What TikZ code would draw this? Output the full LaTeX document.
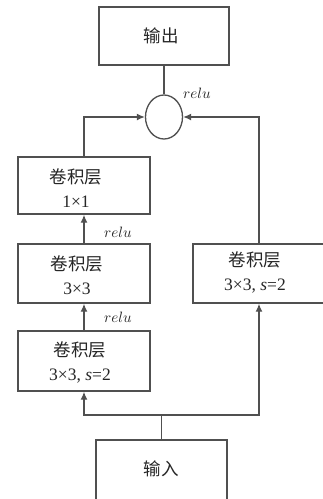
\documentclass[tikz,border=0pt]{standalone}
\usepackage{fontspec}
\setmainfont{Liberation Serif}
\newfontfamily\cjk{Noto Sans CJK SC}
\usetikzlibrary{arrows.meta,shapes.geometric}
\definecolor{linegray}{HTML}{505050}
\definecolor{textgray}{HTML}{262626}
\newcommand{\actname}{\scalebox{1.5}{$relu$}}
\tikzset{
  box/.style={draw=linegray, line width=1.4pt, rectangle, inner sep=0pt},
  txt/.style={text=textgray, align=center, inner sep=0pt,
    font=\fontsize{17.5}{24}\selectfont},
  lbl/.style={text=textgray, inner sep=0pt},
  conn/.style={draw=linegray, line width=1.3pt},
  arr/.style={conn, -{Latex[length=8pt,width=7pt]}},
}
\begin{document}
\begin{tikzpicture}[x=1pt,y=-1pt]
  \clip (0,0) rectangle (323,499);
  \fill[white] (0,0) rectangle (323,499);

  % boxes
  \node[box, minimum width=130pt, minimum height=58pt] (out) at (164,36) {};
  \node[draw=linegray, line width=1.3pt, ellipse, minimum width=37pt, minimum height=44pt, inner sep=0pt] (add) at (164,117) {};
  \node[box, minimum width=132pt, minimum height=57pt] (c1) at (84,185.5) {};
  \node[box, minimum width=132pt, minimum height=59pt] (c2) at (84,273.5) {};
  \node[box, minimum width=132pt, minimum height=60pt] (c3) at (84,361) {};
  \node[box, minimum width=132pt, minimum height=59pt] (cr) at (259,273.5) {};
  \node[box, minimum width=131pt, minimum height=70pt] (in) at (161.5,475) {};

  % box texts
  \node[txt] (outt) at (161,36) {\cjk 输出};
  \node[txt] (c1t) at (76,188.5) {{\cjk 卷积层}\\1×1};
  \node[txt] (c2t) at (77,275.5) {{\cjk 卷积层}\\3×3};
  \node[txt] (c3t) at (80,362.5) {{\cjk 卷积层}\\3×3, \textit{s}=2};
  \node[txt] (crt) at (255,272) {{\cjk 卷积层}\\3×3, \textit{s}=2};
  \node[txt] (int) at (161,469) {\cjk 输入};

  % activation labels
  \node[lbl] (r0) at (197,93) {\actname};
  \node[lbl] (r1) at (118,232) {\actname};
  \node[lbl] (r2) at (118,317) {\actname};

  % connectors
  \coordinate (j) at (161.5,415);
  \draw[conn] (in.north) -- (j);
  \draw[arr] (j) -| (c3.south);
  \draw[arr] (j) -| (cr.south);
  \draw[arr] (c3.north) -- (c2.south);
  \draw[arr] (c2.north) -- (c1.south);
  \draw[arr] (c1.north) |- (add.west);
  \draw[arr] (cr.north) |- (add.east);
  \draw[conn] (out.south) -- (add.north);
\end{tikzpicture}
\end{document}
